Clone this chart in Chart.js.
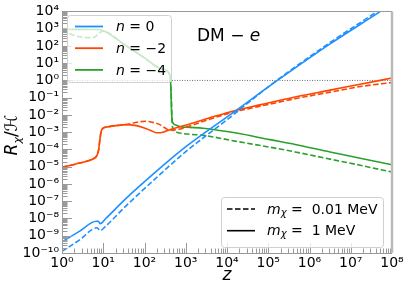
<!DOCTYPE html>
<html>
<head>
<meta charset="utf-8">
<script src="https://cdn.jsdelivr.net/npm/chart.js@4.4.1/dist/chart.umd.min.js"></script>
<style>
  body { margin: 0; background: #fff; }
</style>
</head>
<body>
<canvas id="chart" width="407" height="293"></canvas>
<script>
// n = 0, m = 1 MeV (solid) and m = 0.01 MeV (dashed)
const zN0Heavy = [1, 2.63, 6.76, 7.59, 8.51, 11.2, 36.3, 178, 955, 11750, 195000, 3.16e6, 5.25e7, 1e8];
const rN0Heavy = [4.4e-10, 1.8e-9, 6.9e-9, 6.8e-9, 5.0e-9, 9.3e-9, 1.5e-7, 4.5e-6, 1.3e-4, 1.0e-2, 1.3, 132, 1e4, 2.8e4];
const zN0Light = [1, 2.63, 7.08, 8.51, 11.2, 36.3, 178, 955, 11750, 79400, 195000, 3.16e6, 4.37e7, 1e8];
const rN0Light = [1.23e-10, 5.6e-10, 2.9e-9, 2.0e-9, 3.4e-9, 5.6e-8, 1.9e-6, 6.8e-5, 7.1e-3, 0.275, 1.41, 158, 1e4, 4.0e4];

// n = -2
const zN2Heavy = [1, 2.19, 3.98, 5.62, 7.08, 7.76, 8.32, 8.91, 9.77, 12.9, 20, 36.3, 63.1, 91.2, 141, 195, 282, 407, 1259, 3800, 11750, 70800, 446700, 3.16e6, 1.70e7, 1e8];
const rN2Heavy = [9.3e-6, 1.45e-5, 2.1e-5, 2.8e-5, 4.7e-5, 1.0e-4, 4.0e-4, 1.12e-3, 1.66e-3, 2.04e-3, 2.4e-3, 2.75e-3, 2.4e-3, 1.9e-3, 1.26e-3, 9.3e-4, 1.0e-3, 1.38e-3, 3.0e-3, 6.8e-3, 1.5e-2, 4.1e-2, 0.11, 0.275, 0.60, 1.38];
const zN2Light = [1, 2.19, 3.98, 5.62, 7.08, 7.76, 8.32, 8.91, 9.77, 12.9, 20, 36.3, 56.2, 79.4, 112, 158, 234, 316, 407, 562, 794, 1259, 3800, 11750, 70800, 446700, 3.16e6, 1.70e7, 1e8];
const rN2Light = [9.3e-6, 1.45e-5, 2.1e-5, 2.8e-5, 4.7e-5, 1.0e-4, 4.0e-4, 1.12e-3, 1.66e-3, 2.04e-3, 2.4e-3, 2.75e-3, 3.5e-3, 4.1e-3, 4.3e-3, 3.7e-3, 2.75e-3, 1.74e-3, 1.26e-3, 1.38e-3, 1.6e-3, 2.3e-3, 5.6e-3, 1.3e-2, 3.4e-2, 8.7e-2, 0.21, 0.44, 0.76];

// n = -4
const zN4Heavy = [1, 3.16, 6.92, 9.77, 31.6, 100, 251, 407, 437, 452, 462, 490, 603, 724, 1259, 2630, 17000, 109600, 446700, 3.16e6, 1.58e7, 1e8];
const rN4Heavy = [912, 912, 891, 794, 126, 20.4, 4.9, 2.29, 0.316, 1.58e-2, 6.3e-3, 3.5e-3, 2.5e-3, 2.1e-3, 1.9e-3, 1.7e-3, 8.9e-4, 3.7e-4, 1.95e-4, 7.1e-5, 3.2e-5, 1.29e-5];
const zN4Light = [1, 2.24, 5.62, 9.77, 31.6, 100, 251, 407, 447, 468, 501, 575, 724, 1259, 2630, 17000, 109600, 446700, 3.16e6, 1.58e7, 1e8];
const rN4Light = [794, 372, 302, 708, 126, 20, 4.7, 2.2, 0.1, 3.2e-3, 1.41e-3, 1.05e-3, 8.9e-4, 7.6e-4, 6.6e-4, 2.95e-4, 1.35e-4, 7.2e-5, 2.75e-5, 1.26e-5, 4.9e-6];

// R = H reference line
const zUnity = [1, 1e8];
const rUnity = [1, 1];

const nLabels = ['0', '\u22122', '\u22124'];
const massLabels = ['0.01 MeV', '1 MeV'];
const colors = ['#1e90ff', '#ff4500', '#2ca02c'];

const SUP = {'-': '\u207b', '0': '\u2070', '1': '\u00b9', '2': '\u00b2', '3': '\u00b3',
             '4': '\u2074', '5': '\u2075', '6': '\u2076', '7': '\u2077', '8': '\u2078', '9': '\u2079'};
const FONT = '"DejaVu Sans"';

function pts(zs, rs) {
    return zs.map((z, i) => ({x: z, y: rs[i]}));
}

// label only the decades
function powLabel(v) {
    const e = Math.log10(v);
    if (Math.abs(e - Math.round(e)) > 1e-6) return '';
    return '10' + String(Math.round(e)).split('').map(c => SUP[c]).join('');
}

// 1..9 x 10^e ticks for every decade
function logTicks(lo, hi) {
    const out = [];
    for (let e = lo; e < hi; e++) {
        for (let m = 1; m < 10; m++) out.push({value: m * Math.pow(10, e)});
    }
    out.push({value: Math.pow(10, hi)});
    return out;
}

function curve(zs, rs, color, dashed) {
    return {
        data: pts(zs, rs),
        borderColor: color,
        borderWidth: 1.6,
        borderDash: dashed ? [5.5, 2.5] : [],
        pointRadius: 0,
        fill: false,
        cubicInterpolationMode: 'monotone'
    };
}

// draw a run of text pieces (italic / subscript) one after another
function drawRuns(ctx, x, y, runs) {
    runs.forEach(r => {
        ctx.font = (r.italic ? 'italic ' : '') + (r.size || 14) + 'px ' + FONT;
        ctx.fillText(r.t, x, y + (r.dy || 0));
        x += ctx.measureText(r.t).width;
    });
    return x;
}
function runsWidth(ctx, runs) {
    let w = 0;
    runs.forEach(r => {
        ctx.font = (r.italic ? 'italic ' : '') + (r.size || 14) + 'px ' + FONT;
        w += ctx.measureText(r.t).width;
    });
    return w;
}

function roundRect(ctx, x, y, w, h, r) {
    ctx.beginPath();
    ctx.moveTo(x + r, y);
    ctx.arcTo(x + w, y, x + w, y + h, r);
    ctx.arcTo(x + w, y + h, x, y + h, r);
    ctx.arcTo(x, y + h, x, y, r);
    ctx.arcTo(x, y, x + w, y, r);
    ctx.closePath();
}

// ticks pointing inward, spines, legends and labels
const decorPlugin = {
    id: 'decor',
    afterDraw(chart) {
        const ctx = chart.ctx;
        const a = chart.chartArea;
        const xs = chart.scales.x, ys = chart.scales.y;
        ctx.save();

        ctx.strokeStyle = '#9a9a9a';
        ctx.lineWidth = 1;
        ctx.beginPath();
        xs.ticks.forEach(t => {
            const px = Math.round(xs.getPixelForValue(t.value)) + 0.5;
            const len = powLabel(t.value) ? 10 : 4.5;
            ctx.moveTo(px, a.bottom);
            ctx.lineTo(px, a.bottom - len);
        });
        ys.ticks.forEach(t => {
            const py = Math.round(ys.getPixelForValue(t.value)) + 0.5;
            const len = powLabel(t.value) ? 10 : 5.5;
            ctx.moveTo(a.left, py);
            ctx.lineTo(a.left + len, py);
        });
        ctx.stroke();

        // spines
        ctx.strokeStyle = '#999';
        ctx.beginPath();
        ctx.moveTo(Math.round(a.left) + 0.5, a.top);
        ctx.lineTo(Math.round(a.left) + 0.5, a.bottom);
        ctx.moveTo(a.left, Math.round(a.bottom) + 0.5);
        ctx.lineTo(a.right, Math.round(a.bottom) + 0.5);
        ctx.moveTo(a.left, Math.round(a.top) + 0.5);
        ctx.lineTo(a.right, Math.round(a.top) + 0.5);
        ctx.stroke();
        ctx.strokeStyle = '#bbb';
        ctx.lineWidth = 2.5;
        ctx.beginPath();
        ctx.moveTo(a.right, a.top);
        ctx.lineTo(a.right, a.bottom);
        ctx.stroke();

        ctx.fillStyle = '#000';
        ctx.textBaseline = 'middle';

        // legend for n
        ctx.lineWidth = 1;
        roundRect(ctx, 67.5, 15.5, 104, 67, 3);
        ctx.fillStyle = 'rgba(255,255,255,0.75)';
        ctx.fill();
        ctx.strokeStyle = '#d0d0d0';
        ctx.stroke();
        nLabels.forEach((lab, i) => {
            const y = 26.5 + i * 21.7;
            ctx.strokeStyle = colors[i];
            ctx.lineWidth = 1.8;
            ctx.setLineDash([]);
            ctx.beginPath();
            ctx.moveTo(75, y);
            ctx.lineTo(103, y);
            ctx.stroke();
            ctx.fillStyle = '#000';
            drawRuns(ctx, 116, y + 1, [{t: 'n', italic: true}, {t: ' = ' + lab}]);
        });

        // legend for mass
        ctx.lineWidth = 1;
        roundRect(ctx, 221.5, 197.5, 162, 50, 3);
        ctx.fillStyle = 'rgba(255,255,255,0.75)';
        ctx.fill();
        ctx.strokeStyle = '#d0d0d0';
        ctx.stroke();
        massLabels.forEach((lab, i) => {
            const y = 209 + i * 21.7;
            ctx.strokeStyle = '#000';
            ctx.lineWidth = 1.6;
            ctx.setLineDash(i === 0 ? [5.5, 2.5] : []);
            ctx.beginPath();
            ctx.moveTo(227, y);
            ctx.lineTo(255, y);
            ctx.stroke();
            ctx.setLineDash([]);
            ctx.fillStyle = '#000';
            drawRuns(ctx, 267, y + 1, [
                {t: 'm', italic: true},
                {t: '\u03c7', italic: true, size: 10, dy: 3},
                {t: ' =  ' + lab}
            ]);
        });

        // annotation
        ctx.textBaseline = 'alphabetic';
        drawRuns(ctx, 197, 41, [{t: 'DM \u2212 ', size: 17}, {t: 'e', italic: true, size: 17}]);

        // axis titles
        ctx.font = 'italic 17px ' + FONT;
        ctx.textAlign = 'center';
        ctx.fillText('z', (a.left + a.right) / 2, 280);
        ctx.textAlign = 'left';

        const yRuns = [
            {t: 'R', italic: true, size: 17},
            {t: '\u03c7', italic: true, size: 11, dy: 4},
            {t: '/\u210b', size: 17}
        ];
        ctx.translate(17, 135);
        ctx.rotate(-Math.PI / 2);
        drawRuns(ctx, -runsWidth(ctx, yRuns) / 2, 0, yRuns);

        ctx.restore();
    }
};

const tickFont = {family: FONT, size: 14};

new Chart(document.getElementById('chart'), {
    type: 'line',
    data: {
        datasets: [
            curve(zN0Heavy, rN0Heavy, colors[0], false),
            curve(zN0Light, rN0Light, colors[0], true),
            curve(zN2Heavy, rN2Heavy, colors[1], false),
            curve(zN2Light, rN2Light, colors[1], true),
            curve(zN4Heavy, rN4Heavy, colors[2], false),
            curve(zN4Light, rN4Light, colors[2], true),
            {
                data: pts(zUnity, rUnity),
                borderColor: '#444',
                borderWidth: 0.8,
                borderDash: [1, 1.5],
                pointRadius: 0,
                fill: false
            }
        ]
    },
    options: {
        responsive: false,
        devicePixelRatio: 1,
        animation: false,
        layout: {padding: {top: 8, right: 15, left: 0, bottom: 0}},
        plugins: {legend: {display: false}, tooltip: {enabled: false}},
        scales: {
            x: {
                type: 'logarithmic',
                min: 1,
                max: 1e8,
                afterBuildTicks: s => { s.ticks = logTicks(0, 8); },
                afterFit: s => { s.height = 40; },
                grid: {display: false, drawTicks: false},
                border: {display: false},
                ticks: {autoSkip: false, maxRotation: 0, padding: 2, color: '#000',
                        font: tickFont, callback: v => powLabel(v)}
            },
            y: {
                type: 'logarithmic',
                min: 1e-10,
                max: 1e4,
                afterBuildTicks: s => { s.ticks = logTicks(-10, 4); },
                afterFit: s => { s.width = 62; },
                grid: {display: false, drawTicks: false},
                border: {display: false},
                ticks: {autoSkip: false, padding: 3, color: '#000',
                        font: tickFont, callback: v => powLabel(v)}
            }
        }
    },
    plugins: [decorPlugin]
});
</script>
</body>
</html>
